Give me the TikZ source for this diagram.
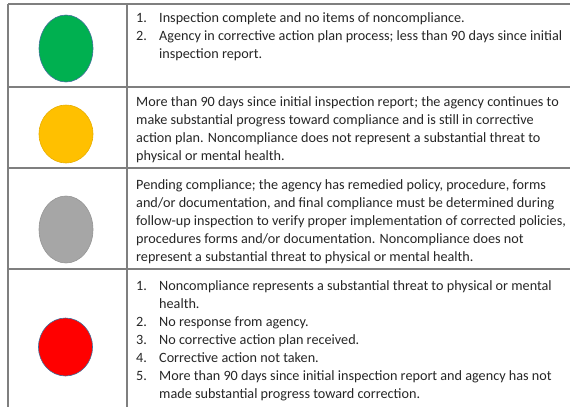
\documentclass[tikz,border=0pt]{standalone}
\usepackage{fontspec}
\setmainfont{Carlito}
\usetikzlibrary{shapes.geometric}
\definecolor{cgreen}{HTML}{00B050}
\definecolor{cyellow}{HTML}{FFC000}
\definecolor{cgrey}{HTML}{A6A6A6}
\definecolor{cred}{HTML}{FF0000}
\definecolor{blueline}{HTML}{41719C}
\definecolor{yline}{HTML}{E8AE00}
\definecolor{gline}{HTML}{959595}
\definecolor{rule}{HTML}{7F7F7F}
\definecolor{txt}{HTML}{262626}
\newcommand{\itm}[1]{\makebox[23pt][l]{#1}}
\newcommand{\cont}{\hspace*{23pt}}
\begin{document}
\begin{tikzpicture}[x=1pt,y=-1pt,
  gridline/.style={draw=rule,line width=1.1pt},
  lamp/.style={ellipse,inner sep=0pt,line width=0.6pt,minimum width=54pt},
  celltext/.style={anchor=north west,inner sep=0pt,align=left,text=txt,
    font={\fontsize{14.2}{18}\selectfont}}]
\useasboundingbox (0,0) rectangle (570,407);
% grid
\coordinate (tl) at (8,4);
\coordinate (tr) at (570,4);
\coordinate (l1) at (8,87);
\coordinate (r1) at (570,87);
\coordinate (l2) at (8,168);
\coordinate (r2) at (570,168);
\coordinate (l3) at (8,269);
\coordinate (r3) at (570,269);
\coordinate (bl) at (8,407);
\coordinate (dt) at (127,4);
\coordinate (db) at (127,407);
\draw[gridline] (tl) -- (tr);
\draw[gridline] (l1) -- (r1);
\draw[gridline] (l2) -- (r2);
\draw[gridline] (l3) -- (r3);
\draw[gridline] (tl) -- (bl);
\draw[gridline] (dt) -- (db);
% lamps
\node[lamp,fill=cgreen,draw=blueline,minimum height=67pt] (green) at (66,48.5) {};
\node[lamp,fill=cyellow,draw=yline,minimum height=58pt] (yellow) at (66,134) {};
\node[lamp,fill=cgrey,draw=gline,minimum height=67pt] (grey) at (66,229.5) {};
\node[lamp,fill=cred,draw=blueline,minimum height=58pt] (red) at (65.5,347) {};
% texts
\node[celltext] (t1) at (136,10) {\rule{0pt}{12pt}\itm{1.}Inspection complete and no items of noncompliance.\\
\itm{2.}Agency in corrective action plan process; less than 90 days since initial\\
\cont inspection report.};
\node[celltext] (t2) at (136,94) {\rule{0pt}{12pt}More than 90 days since initial inspection report; the agency continues to\\
make substantial progress toward compliance and is still in corrective\\
action plan. Noncompliance does not represent a substantial threat to\\
physical or mental health.};
\node[celltext] (t3) at (136,177) {\rule{0pt}{12pt}Pending compliance; the agency has remedied policy, procedure, forms\\
and/or documentation, and final compliance must be determined during\\
follow-up inspection to verify proper implementation of corrected policies,\\
procedures forms and/or documentation. Noncompliance does not\\
represent a substantial threat to physical or mental health.};
\node[celltext] (t4) at (136,278) {\rule{0pt}{12pt}\itm{1.}Noncompliance represents a substantial threat to physical or mental\\
\cont health.\\
\itm{2.}No response from agency.\\
\itm{3.}No corrective action plan received.\\
\itm{4.}Corrective action not taken.\\
\itm{5.}More than 90 days since initial inspection report and agency has not\\
\cont made substantial progress toward correction.};
\end{tikzpicture}
\end{document}
